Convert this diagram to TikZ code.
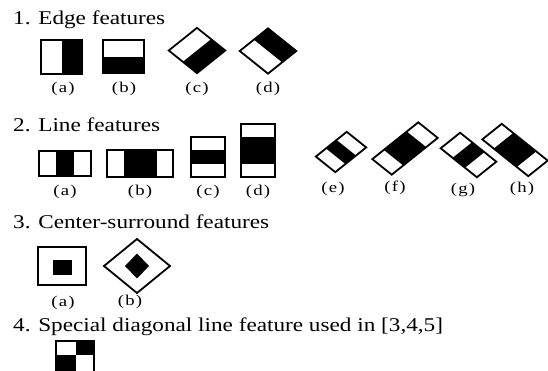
\documentclass[tikz,border=0pt]{standalone}
\usepackage{fontspec}
\setmainfont{Liberation Serif}[FakeStretch=1.19]
\newfontfamily\sublabelfont{Liberation Serif}[FakeStretch=1.25,LetterSpace=8]

\tikzset{
  outline/.style={draw=black, line width=1.8pt},
  heading/.style={anchor=base west, inner sep=0pt, font=\fontsize{19.5}{22}\selectfont},
  sublabel/.style={inner sep=0pt, font=\sublabelfont\fontsize{15}{17}\selectfont},
  tiltup/.style={xscale=1.25, rotate=45},
  tiltdown/.style={xscale=1.25, rotate=-45},
}

\begin{document}
\begin{tikzpicture}[x=1pt, y=-1pt]
    \useasboundingbox (0,0) rectangle (548,371);
    \clip (0,0) rectangle (548,371);
    \fill[white] (0,0) rectangle (548,371);

    % Edge features
    \node[heading] (edgeTitle) at (13,25) {1. Edge features};
    \fill (61.5,40) rectangle (82,74);
    \draw[outline] (41,40) rectangle (82,74);
    \node[sublabel] (edgeA) at (63,89) {(a)};
    \fill (103,57) rectangle (144,73);
    \draw[outline] (103,40) rectangle (144,73);
    \node[sublabel] (edgeB) at (124,89) {(b)};
    \begin{scope}[shift={(197,50.5)}, tiltup]
        \fill (-16,0) rectangle (16,16);
        \draw[outline] (-16,-16) rectangle (16,16);
    \end{scope}
    \node[sublabel] (edgeC) at (197,89) {(c)};
    \begin{scope}[shift={(268,51)}, tiltup]
        \fill (0,-16) rectangle (16,16);
        \draw[outline] (-16,-16) rectangle (16,16);
    \end{scope}
    \node[sublabel] (edgeD) at (268,89) {(d)};

    % Line features
    \node[heading] (lineTitle) at (13,132) {2. Line features};
    \fill (56,151) rectangle (74,176);
    \draw[outline] (39,151) rectangle (91,176);
    \node[sublabel] (lineA) at (65,192) {(a)};
    \fill (124,150) rectangle (157,177);
    \draw[outline] (107,150) rectangle (173,177);
    \node[sublabel] (lineB) at (140,192) {(b)};
    \fill (191,150) rectangle (225,164);
    \draw[outline] (191,137) rectangle (225,177);
    \node[sublabel] (lineC) at (208,192) {(c)};
    \fill (241,137) rectangle (275,164);
    \draw[outline] (241,124) rectangle (275,177);
    \node[sublabel] (lineD) at (258,192) {(d)};
    \begin{scope}[shift={(341,152)}, tiltup]
        \fill (-6,-11) rectangle (6,11);
        \draw[outline] (-17.5,-11) rectangle (17.5,11);
    \end{scope}
    \node[sublabel] (lineE) at (333,189) {(e)};
    \begin{scope}[shift={(405,148.5)}, tiltup]
        \fill (-13,-11) rectangle (13,11);
        \draw[outline] (-26,-11) rectangle (26,11);
    \end{scope}
    \node[sublabel] (lineF) at (395,188) {(f)};
    \begin{scope}[shift={(468.5,155)}, tiltdown]
        \fill (-7,-11) rectangle (7,11);
        \draw[outline] (-20.5,-11) rectangle (20.5,11);
    \end{scope}
    \node[sublabel] (lineG) at (463,190) {(g)};
    \begin{scope}[shift={(515,150)}, tiltdown]
        \fill (-13,-11) rectangle (13,11);
        \draw[outline] (-26,-11) rectangle (26,11);
    \end{scope}
    \node[sublabel] (lineH) at (522,189) {(h)};

    % Center-surround features
    \node[heading] (centerTitle) at (13,229) {3. Center-surround features};
    \draw[outline] (38,247) rectangle (86,285);
    \fill (53,260) rectangle (72,275);
    \node[sublabel] (centerA) at (63,303) {(a)};
    \draw[outline] (104,266) -- (137,239) -- (170,266) -- (137,293) -- cycle;
    \fill (125,266) -- (137,253.5) -- (149,266) -- (137,278.5) -- cycle;
    \node[sublabel] (centerB) at (130,302) {(b)};

    % Special diagonal line feature
    \node[heading] (diagTitle) at (13,331) {4. Special diagonal line feature used in [3,4,5]};
    \fill (75.5,341) rectangle (94,355);
    \fill (56,355) rectangle (75.5,376);
    \draw[outline] (56,341) rectangle (94,376);
\end{tikzpicture}
\end{document}
